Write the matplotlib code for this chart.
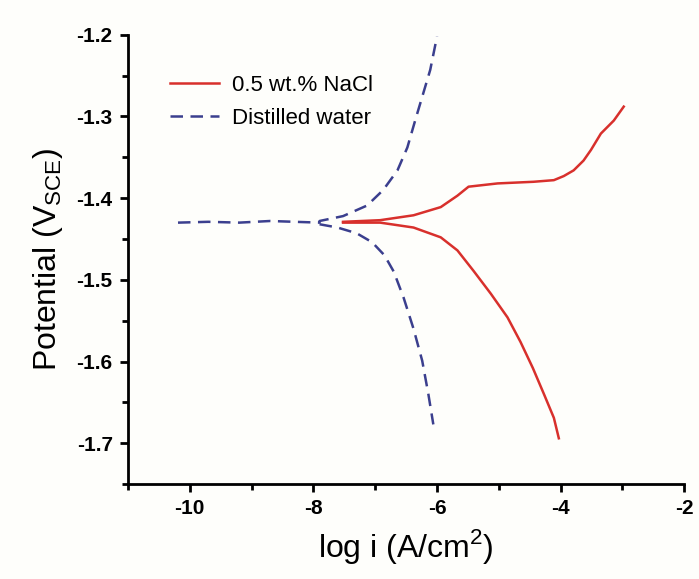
import matplotlib
matplotlib.use('Agg')
from matplotlib import pyplot as plt
from matplotlib.ticker import MultipleLocator

plt.rcParams['font.family'] = ['Liberation Sans', 'DejaVu Sans']
plt.rcParams['mathtext.fontset'] = 'custom'
plt.rcParams['mathtext.rm'] = 'Liberation Sans'
plt.rcParams['axes.unicode_minus'] = False

# distilled water (blue dashed): flat part, then anodic and cathodic branches
water_flat_x = [-10.19, -9.7, -9.2, -8.7, -8.3, -7.9]
water_flat_y = [-1.430, -1.429, -1.430, -1.428, -1.429, -1.430]
water_up_x = [-7.9, -7.52, -7.13, -6.87, -6.64, -6.48, -6.35, -6.22, -6.11, -6.0]
water_up_y = [-1.428, -1.422, -1.409, -1.390, -1.366, -1.338, -1.304, -1.271, -1.243, -1.202]
water_down_x = [-7.9, -7.61, -7.30, -7.05, -6.85, -6.70, -6.54, -6.38, -6.24, -6.14, -6.06]
water_down_y = [-1.432, -1.436, -1.443, -1.454, -1.470, -1.490, -1.522, -1.560, -1.599, -1.640, -1.677]

# 0.5 wt.% NaCl (red solid)
nacl_up_x = [-7.52, -6.92, -6.38, -5.94, -5.67, -5.49, -5.02, -4.44, -4.11, -3.95, -3.79,
             -3.63, -3.51, -3.35, -3.14, -2.98]
nacl_up_y = [-1.429, -1.427, -1.421, -1.411, -1.397, -1.386, -1.382, -1.380, -1.378, -1.373,
             -1.366, -1.354, -1.341, -1.321, -1.305, -1.288]
nacl_down_x = [-7.52, -6.92, -6.38, -5.94, -5.67, -5.41, -5.13, -4.86, -4.65, -4.45,
               -4.27, -4.11, -4.03]
nacl_down_y = [-1.430, -1.430, -1.436, -1.448, -1.464, -1.489, -1.517, -1.546, -1.576,
               -1.608, -1.640, -1.669, -1.694]

red = '#d8302c'
blue = '#3b3f8e'

fig = plt.figure(figsize=(6.99, 5.79), dpi=100, facecolor='#fefefb')
ax = fig.add_axes([0.183, 0.164, 0.796, 0.776])
ax.set_facecolor('#fefefb')

ax.plot(nacl_up_x, nacl_up_y, c=red, lw=1.8, label='0.5 wt.% NaCl')
ax.plot(nacl_down_x, nacl_down_y, c=red, lw=1.8)
ax.plot(water_flat_x + water_up_x, water_flat_y + water_up_y, c=blue, lw=1.8,
        ls=(0, (5, 3)), label='Distilled water')
ax.plot(water_down_x, water_down_y, c=blue, lw=1.8, ls=(0, (5, 3)))

ax.set_xlim(-11, -2)
ax.set_ylim(-1.75, -1.2)
ax.xaxis.set_minor_locator(MultipleLocator(1))
ax.yaxis.set_minor_locator(MultipleLocator(0.05))
ax.set_xticks([-10, -8, -6, -4, -2])
ax.set_yticks([-1.7, -1.6, -1.5, -1.4, -1.3, -1.2])
ax.set_yticklabels(['-1.7', '-1.6', '-1.5', '-1.4', '-1.3', '-1.2'])

for s in ['top', 'right']:
    ax.spines[s].set_visible(False)
for s in ['left', 'bottom']:
    ax.spines[s].set_linewidth(2)

ax.tick_params(axis='both', which='major', direction='out', length=6, width=2,
               labelsize=15, pad=5)
ax.tick_params(axis='both', which='minor', direction='out', length=4, width=2)
for lab in ax.get_xticklabels() + ax.get_yticklabels():
    lab.set_fontweight('bold')

ax.set_xlabel('log i (A/cm$^2$)', fontsize=23, labelpad=6)
ax.set_ylabel('Potential (V$_{\\mathrm{SCE}}$)', fontsize=23, labelpad=8)

ax.legend(loc='upper left', bbox_to_anchor=(0.04, 0.955), frameon=False, fontsize=16,
          handlelength=2.2, handletextpad=0.6, labelspacing=0.55)

plt.savefig('out.png', dpi=100, facecolor=fig.get_facecolor())
